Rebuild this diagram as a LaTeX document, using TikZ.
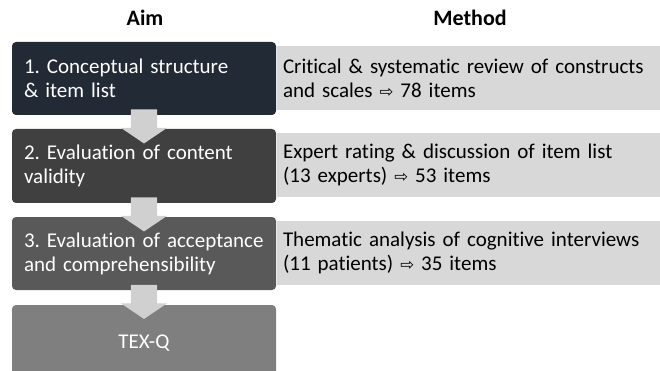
\documentclass[tikz,border=0pt]{standalone}
\usepackage{fontspec}
\setmainfont{Carlito}[Ligatures=NoCommon]
\newfontfamily\arrowfont{DejaVu Sans}
\usetikzlibrary{shapes.arrows,calc}
\definecolor{stepnavy}{HTML}{222A35}
\definecolor{stepdark}{HTML}{404040}
\definecolor{stepmid}{HTML}{595959}
\definecolor{steplight}{HTML}{7F7F7F}
\definecolor{methodgray}{HTML}{D8D8D8}
\definecolor{arrowgray}{HTML}{D0D0D0}
\newcommand{\yields}{{\arrowfont\fontsize{16.5}{16}\selectfont ⇨}}
\frenchspacing

\begin{document}
\begin{tikzpicture}[x=1pt,y=-1pt,
  aimbox/.style={rectangle,rounded corners=4pt,minimum width=264pt,text width=240pt,
    inner xsep=12pt,align=left,text=white,font=\fontsize{21}{24}\selectfont},
  methodbox/.style={rectangle,fill=methodgray,minimum width=383pt,minimum height=64pt,
    text width=370pt,inner xsep=6pt,align=left,font=\fontsize{21}{24}\selectfont},
  heading/.style={font=\bfseries\fontsize{22}{24}\selectfont},
  downarrow/.style={single arrow,fill=arrowgray,rotate=-90,inner xsep=0pt,inner ysep=13pt,
    minimum height=34pt,single arrow head extend=10pt,single arrow tip angle=112}]
  \useasboundingbox (0,0) rectangle (660,371);

  % column headings
  \node[heading] (aimhead) at (145,18) {Aim};
  \node[heading] (methodhead) at (470,18) {Method};

  % method column (drawn first, the aim boxes sit on top of its left edge)
  \node[methodbox] (meth1) at (468,78) {Critical \& systematic review of constructs\\and scales \yields{} 78 items};
  \node[methodbox] (meth2) at (468,165) {Expert rating \& discussion of item list\\(13 experts) \yields{} 53 items};
  \node[methodbox] (meth3) at (468,252.5) {Thematic analysis of cognitive interviews\\(11 patients) \yields{} 35 items};

  % aim column
  \node[aimbox,fill=stepnavy,minimum height=73pt] (aim1) at (144,78.5) {1. Conceptual structure\\\& item list};
  \node[aimbox,fill=stepdark,minimum height=74pt] (aim2) at (144,166) {2. Evaluation of content\\validity};
  \node[aimbox,fill=stepmid,minimum height=73pt] (aim3) at (144,253.5) {3. Evaluation of acceptance\\and comprehensibility};
  \node[aimbox,fill=steplight,minimum height=76pt,align=center] (aim4) at (144,343) {TEX-Q};

  % block arrows between the steps
  \node[downarrow] (arr1) at ($(aim1.south)!0.5!(aim2.north)$) {};
  \node[downarrow] (arr2) at ($(aim2.south)!0.5!(aim3.north)$) {};
  \node[downarrow] (arr3) at ($(aim3.south)!0.5!(aim4.north)$) {};
\end{tikzpicture}
\end{document}
